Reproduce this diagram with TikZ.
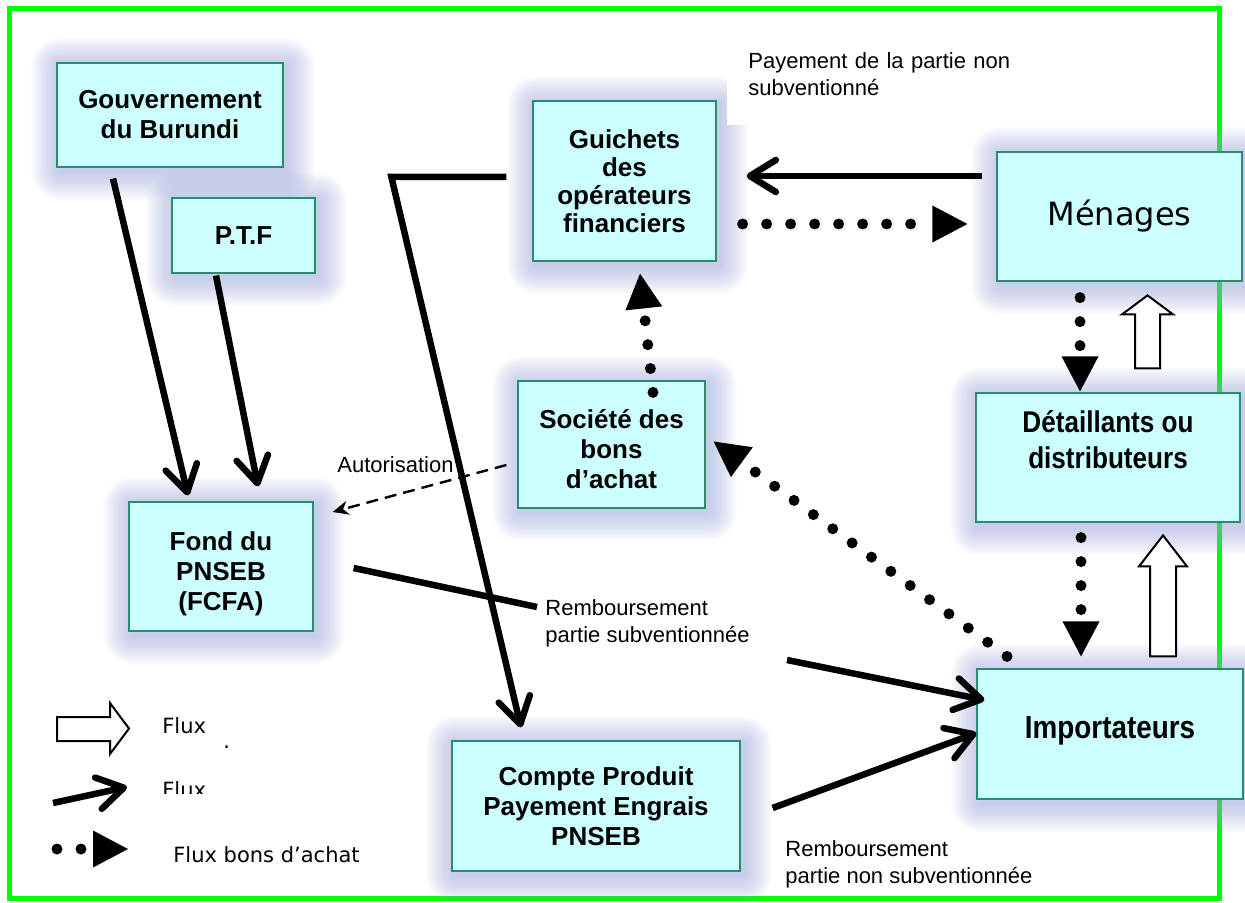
\documentclass[tikz,border=0pt]{standalone}
\usepackage{fontspec}
\setmainfont{Liberation Sans}
\newfontfamily\narrowfont[FakeStretch=0.87]{Liberation Sans}
\newfontfamily\dvfont{DejaVu Sans}
\usetikzlibrary{arrows.meta,backgrounds}
\definecolor{boxfill}{RGB}{204,255,255}
\definecolor{boxline}{RGB}{40,140,110}
\definecolor{glowc}{RGB}{150,160,215}
\definecolor{framegreen}{RGB}{0,255,0}
\begin{document}
\begin{tikzpicture}[x=0.5pt,y=-0.5pt,
 box/.style={draw=boxline, line width=0.6pt, fill=boxfill, align=center, inner sep=0pt,
   font=\fontsize{13pt}{15pt}\selectfont\bfseries},
 flow/.style={line width=3.25pt, -{Straight Barb[length=13pt 0,width=16pt 0,round]}},
 flowline/.style={line width=3.25pt},
 bon/.style={line width=5.5pt, line cap=round, dash pattern=on 0pt off 12pt,
   -{Triangle[length=17.5pt 0,width=18.5pt 0,line width=0pt 0]}},
 autor/.style={line width=1.2pt, dash pattern=on 6pt off 3.5pt, -{Stealth[length=8pt 0,width=7pt 0]}},
 hollow/.style={draw=black, line width=1pt, fill=white, line join=miter},
 lab/.style={font=\fontsize{11pt}{13.5pt}\selectfont, align=left, inner sep=0pt},
 leg/.style={font=\dvfont\fontsize{10.5pt}{12pt}\selectfont, inner sep=0pt}
]
\useasboundingbox (0,0) rectangle (1245,903);

% boxes
\node[box, minimum width=113pt, minimum height=52pt] (gouv) at (170,115) {Gouvernement\\du Burundi};
\node[box, minimum width=71.5pt, minimum height=37.5pt] (ptf) at (243.5,235.5) {P.T.F};
\node[box, minimum width=91.5pt, minimum height=80pt, font=\fontsize{13pt}{14pt}\selectfont\bfseries] (guich) at (624.5,181) {Guichets\\des\\opérateurs\\financiers};
\node[box, minimum width=122.5pt, minimum height=64.5pt, font=\dvfont\fontsize{16pt}{19pt}\selectfont] (men) at (1119.5,216.5) {Ménages};
\node[box, minimum width=132pt, minimum height=64.5pt, font=\narrowfont\fontsize{15pt}{18pt}\selectfont\bfseries] (det) at (1108,457.5) {Détaillants ou\\distributeurs\\\mbox{}};
\node[box, minimum width=133pt, minimum height=65pt, font=\narrowfont\fontsize{16pt}{19pt}\selectfont\bfseries] (imp) at (1110,734) {Importateurs\\[-12pt]\mbox{}};
\node[box, minimum width=93.5pt, minimum height=63.5pt] (soc) at (611.5,444.5) {\rule{0pt}{14.5pt}Société des\\bons\\d’achat};
\node[box, minimum width=92pt, minimum height=64.5pt] (fond) at (221,566.5) {\rule{0pt}{17pt}Fond du\\PNSEB\\(FCFA)};
\node[box, minimum width=144pt, minimum height=65pt] (compte) at (596,806) {Compte Produit\\Payement Engrais\\PNSEB};

% labels
\node[lab, fill=white, anchor=north west, inner xsep=10.5pt, inner ysep=14.25pt, text width=136pt] (paylab) at (727,24) {Payement de la partie non\\subventionné};
\node[lab, anchor=north west] (autlab) at (337,456) {Autorisation};
\node[lab, anchor=north west] (remb1) at (545,599) {Remboursement\\partie subventionnée};
\node[lab, anchor=north west] (remb2) at (785,840) {Remboursement\\partie non subventionnée};

% solid flows
\draw[flow] ([shift={(-57,11)}]gouv.south) -- ([shift={(-33,-6)}]fond.north);
\draw[flow] ([shift={(-27.5,2)}]ptf.south) -- ([shift={(37,-15)}]fond.north);
\draw[flow, line join=miter] ([shift={(-26,-4)}]guich.west) -- ++(-115,0) -- ([shift={(-75,-13)}]compte.north);
\draw[flowline] ([shift={(40,1.5)}]fond.east) -- ([shift={(-8,8)}]remb1.north west);
\draw[flow] ([shift={(242,61)}]remb1.north west) -- ([shift={(8,-34)}]imp.west);
\draw[flow] ([shift={(32,2)}]compte.east) -- ([shift={(0,-1)}]imp.west);
\draw[flow] ([shift={(-14,-40.5)}]men.west) -- ([shift={(30,-5)}]guich.east);

% voucher flows
\draw[bon] ([shift={(26,43)}]guich.east) -- ([shift={(-29,7.5)}]men.west);
\draw[bon] ([shift={(41.5,12)}]soc.north) -- ([shift={(15.5,12)}]guich.south);
\draw[bon] ([shift={(-103,-12)}]imp.north) -- ([shift={(8,-3)}]soc.east);
\draw[bon] ([shift={(-39.5,16)}]men.south) -- ([shift={(-28,-1)}]det.north);
\draw[bon] ([shift={(-27,15)}]det.south) -- ([shift={(-29,-12)}]imp.north);

% autorisation
\draw[autor] ([shift={(-11,20.5)}]soc.west) -- ([shift={(19,-54.5)}]fond.east);

% hollow block arrows
\draw[hollow] ([shift={(27,-24)}]det.north) -- ++(25,0) -- ++(0,-54) -- ++(13,0) -- ++(-25.5,-19) -- ++(-25.5,19) -- ++(13,0) -- cycle;
\draw[hollow] ([shift={(40,-12)}]imp.north) -- ++(26,0) -- ++(0,-90) -- ++(11,0) -- ++(-24,-31) -- ++(-24,31) -- ++(11,0) -- cycle;

% legend
\draw[hollow] (57,717) -- (110,717) -- (110,703) -- (129,728.5) -- (110,754) -- (110,741) -- (57,741) -- cycle;
\node[leg, anchor=north west] (lf1) at (162,717) {Flux};
\node[leg, anchor=base west] (ldot) at (223,748) {.};
\coordinate (lsa) at (53,803);
\coordinate (lsb) at (127,787);
\draw[flow] (lsa) -- (lsb);
\begin{scope}
\clip (150,770) rectangle (260,793);
\node[leg, anchor=north west] (lf2) at (162,781) {Flux};
\end{scope}
\coordinate (lva) at (57,849);
\coordinate (lvb) at (128,849);
\draw[bon] (lva) -- (lvb);
\node[leg, anchor=north west] (lf3) at (173,846) {Flux bons d’achat};

% background: frame and glows
\begin{pgfonlayer}{background}
\draw[framegreen, line width=2.5pt] (9,8.5) rectangle (1219,898);
\foreach \n in {gouv,ptf,guich,men,det,imp,soc,fond,compte}{
  \foreach \r in {1,...,14}{
    \fill[glowc, opacity=0.05, rounded corners=\r pt] ([shift={(-2*\r+3,-2*\r+4)}]\n.north west) rectangle ([shift={(2*\r+3,2*\r+4)}]\n.south east);
  }
}
\end{pgfonlayer}
\end{tikzpicture}
\end{document}
